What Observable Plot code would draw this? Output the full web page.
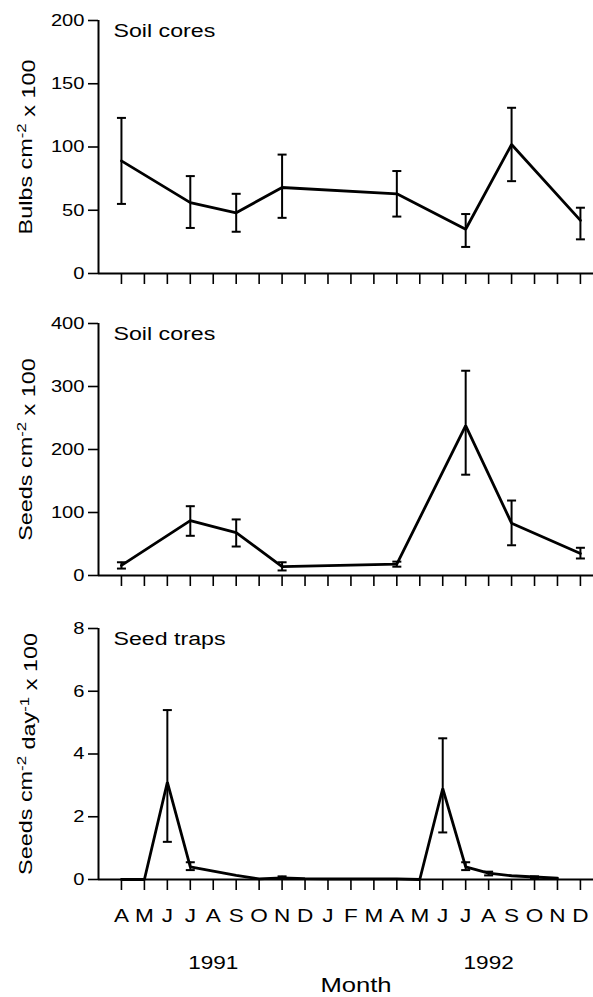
<!DOCTYPE html>
<html>
<head>
<meta charset="utf-8">
<script src="https://cdn.jsdelivr.net/npm/d3@7"></script>
<script src="https://cdn.jsdelivr.net/npm/@observablehq/plot@0.6"></script>
<style>
  html, body { margin: 0; padding: 0; background: #fff; }
  #chart svg { display: block; }
</style>
</head>
<body>
<div id="chart"></div>
<script>
// ---- data ----
const monthLetters = ["A","M","J","J","A","S","O","N","D","J","F","M","A","M","J","J","A","S","O","N","D"];
const monthIdx = monthLetters.map((_, i) => i); // 0 = Apr 1991 ... 20 = Dec 1992
const years = ["1991", "1992"];
const yearAt = [4, 16];

// soil cores sampling months
const coreMonths = [0, 3, 5, 7, 12, 15, 17, 20];
const bulbMean = [89, 56, 48, 68, 63, 35, 102, 42];
const bulbLo   = [55, 36, 33, 44, 45, 21, 73, 27];
const bulbHi   = [123, 77, 63, 94, 81, 47, 131, 52];

const seedMean = [16, 87, 68, 14, 18, 238, 83, 35];
const seedLo   = [11, 63, 46, 8, 14, 160, 48, 27];
const seedHi   = [21, 110, 89, 21, 22, 325, 119, 44];

// seed traps (monthly, Apr 1991 - Nov 1992)
const trapMonths = [0,1,2,3,4,5,6,7,8,9,10,11,12,13,14,15,16,17,18,19];
const trapMean   = [0,0,3.1,0.4,0.27,0.13,0.02,0.05,0.03,0.02,0.02,0.02,0.02,0,2.9,0.4,0.2,0.12,0.08,0.04];
const trapErrMonths = [2, 3, 7, 14, 15, 16, 18];
const trapLo = [1.2, 0.3, 0.02, 1.5, 0.3, 0.13, 0.04];
const trapHi = [5.4, 0.55, 0.1, 4.5, 0.55, 0.25, 0.1];

const yTicks1 = [0, 50, 100, 150, 200];
const yTicks2 = [0, 100, 200, 300, 400];
const yTicks3 = [0, 2, 4, 6, 8];

const titles = ["Soil cores", "Soil cores", "Seed traps"];
const yLabels = [
  [["Bulbs cm", 0], ["-2", 1], [" x 100", 0]],
  [["Seeds cm", 0], ["-2", 1], [" x 100", 0]],
  [["Seeds cm", 0], ["-2", 1], [" day", 0], ["-1", 1], [" x 100", 0]]
];

// ---- build ----
const W = 593;
const FONT = "'Liberation Sans', Arial, Helvetica, sans-serif";
const capSymbol = {
  draw(ctx, size) { const r = Math.sqrt(size / Math.PI); ctx.moveTo(-r, 0); ctx.lineTo(r, 0); }
};

function rows(ms, mean, lo, hi) {
  return ms.map((m, i) => ({m, v: mean ? mean[i] : null, lo: lo ? lo[i] : null, hi: hi ? hi[i] : null}));
}

function panel({height, marginTop, marginBottom, yDomain, yTicks, lineData, errData, title, yLabel, bottom}) {
  const labelText = yLabel.map(d => d[0]).join("");
  const marks = [
    Plot.ruleY([0], {stroke: "black", strokeWidth: 2}),
    Plot.ruleX([-1], {stroke: "black", strokeWidth: 2}),
    Plot.axisY({ticks: yTicks, tickSize: 10, tickPadding: 4, label: null, strokeWidth: 1.6, fontSize: 16.5}),
    Plot.axisX({ticks: monthIdx, tickSize: 11, tickPadding: 18, label: null, strokeWidth: 1.6,
      tickFormat: bottom ? (i => monthLetters[i]) : (() => ""), fontSize: 18.5}),
    Plot.ruleX(errData, {x: "m", y1: "lo", y2: "hi", stroke: "black", strokeWidth: 2}),
    Plot.dot(errData, {x: "m", y: "hi", symbol: capSymbol, r: 4.5, fill: "none", stroke: "black", strokeWidth: 2}),
    Plot.dot(errData, {x: "m", y: "lo", symbol: capSymbol, r: 4.5, fill: "none", stroke: "black", strokeWidth: 2}),
    Plot.line(lineData, {x: "m", y: "v", stroke: "black", strokeWidth: 2.8, strokeLinejoin: "miter"}),
    Plot.text([title], {frameAnchor: "top-left", dx: 15, dy: 3, lineAnchor: "top", textAnchor: "start", fontSize: 19}),
    Plot.text([labelText], {frameAnchor: "left", rotate: -90, dx: -72, fontSize: 18, textAnchor: "middle", lineAnchor: "middle"})
  ];
  if (bottom) {
    marks.push(Plot.text(years, {x: (d, i) => yearAt[i], frameAnchor: "bottom", dy: 84, lineAnchor: "middle", fontSize: 18.5}));
    marks.push(Plot.text(["Month"], {frameAnchor: "bottom", dx: 10, dy: 106, lineAnchor: "middle", fontSize: 21}));
  }
  const svg = Plot.plot({
    width: W, height, marginLeft: 98, marginRight: 0, marginTop, marginBottom,
    style: {fontFamily: FONT, fontSize: "16px", color: "black", background: "white"},
    x: {type: "linear", domain: [-1, 20.57]},
    y: {type: "linear", domain: yDomain},
    marks
  });
  // superscripts in y label
  d3.select(svg).selectAll("text").each(function () {
    if (this.textContent === labelText) {
      const t = d3.select(this);
      t.text(null);
      yLabel.forEach(([s, sup], k) => {
        const prevSup = k > 0 && yLabel[k - 1][1];
        const ts = t.append("tspan").text(s);
        if (sup) ts.attr("dy", "-0.45em").attr("font-size", "0.72em");
        else if (prevSup) ts.attr("dy", "0.45em");
      });
    }
  });
  // widen text along its writing direction to match the stretched lettering of the original
  d3.select(svg).selectAll("text").each(function () {
    const tr = this.getAttribute("transform") || "";
    const x = +(this.getAttribute("x") || 0);
    const s = tr.includes("rotate") ? 1.3 : 1.22;
    this.setAttribute("transform", `${tr} translate(${x},0) scale(${s},1) translate(${-x},0)`);
  });
  return svg;
}

const chart = document.getElementById("chart");
chart.append(panel({
  height: 300, marginTop: 20, marginBottom: 27, yDomain: [0, 200], yTicks: yTicks1,
  lineData: rows(coreMonths, bulbMean), errData: rows(coreMonths, null, bulbLo, bulbHi),
  title: titles[0], yLabel: yLabels[0], bottom: false
}));
chart.append(panel({
  height: 300, marginTop: 23, marginBottom: 25, yDomain: [0, 400], yTicks: yTicks2,
  lineData: rows(coreMonths, seedMean), errData: rows(coreMonths, null, seedLo, seedHi),
  title: titles[1], yLabel: yLabels[1], bottom: false
}));
chart.append(panel({
  height: 397, marginTop: 28, marginBottom: 118, yDomain: [0, 8], yTicks: yTicks3,
  lineData: rows(trapMonths, trapMean), errData: rows(trapErrMonths, null, trapLo, trapHi),
  title: titles[2], yLabel: yLabels[2], bottom: true
}));
</script>
</body>
</html>
